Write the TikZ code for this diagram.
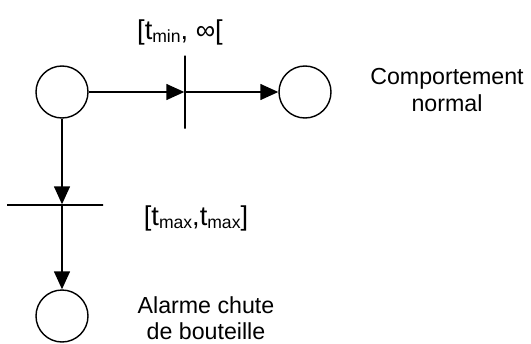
\documentclass[tikz,border=0pt]{standalone}
\usepackage{fontspec}
\setmainfont{Liberation Sans}
\usetikzlibrary{arrows.meta}

\begin{document}
\begin{tikzpicture}[line width=0.8pt,
  place/.style={draw, circle, minimum size=1.04cm, inner sep=0pt},
  transv/.style={draw, rectangle, inner sep=0pt, minimum width=0pt, minimum height=1.46cm},
  transh/.style={draw, rectangle, inner sep=0pt, minimum height=0pt, minimum width=1.92cm},
  txt/.style={font=\fontsize{13.2}{15}\selectfont, align=center, inner sep=0pt},
  arc/.style={-{Triangle[length=0.36cm,width=0.32cm]}}]
\useasboundingbox (0,0) rectangle (10.62,6.86);
\def\Sub#1{\raisebox{-0.25ex}{\fontsize{10}{10}\selectfont #1}}

% places
\node[place] (p1) at (1.24,5.02) {};
\node[place] (p2) at (6.10,5.02) {};
\node[place] (p3) at (1.24,0.54) {};

% transitions
\node[transv] (t1) at (3.70,5.02) {};
\node[transh] (t2) at (1.10,2.76) {};

\draw[arc] (p1) -- (t1);
\draw[arc] (t1) -- (p2);
\draw[arc] (p1) -- (p1 |- t2.north);
\draw[arc] (p1 |- t2.south) -- (p3);

% labels
\node[txt] (l1) at (3.60,6.22) {\fontsize{15.5}{15.5}\selectfont[t\Sub{min}, ∞[};
\node[txt] (l2) at (3.92,2.50) {\fontsize{15.5}{15.5}\selectfont[t\Sub{max},t\Sub{max}]};
\node[txt] (n1) at (8.94,5.06) {Comportement\\normal};
\node[txt] (n2) at (4.12,0.50) {Alarme chute\\de bouteille};
\end{tikzpicture}
\end{document}
